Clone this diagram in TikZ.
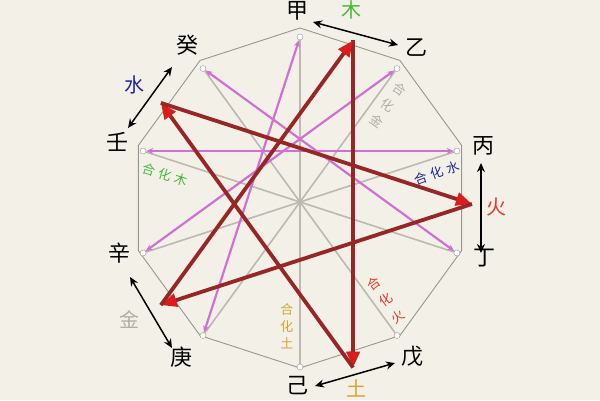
\documentclass[tikz,border=0pt]{standalone}
\usepackage{fontspec}
\newfontfamily\cjk{Noto Sans CJK SC}
\usetikzlibrary{arrows.meta}

% Farben
\definecolor{papier}{RGB}{243,241,231}
\definecolor{randgrau}{RGB}{150,150,145}
\definecolor{liniengrau}{RGB}{188,186,176}
\definecolor{rosa}{RGB}{208,112,208}
\definecolor{dunkelrot}{RGB}{152,38,38}
\definecolor{spitzenrot}{RGB}{218,28,28}
\definecolor{holzgruen}{RGB}{70,185,60}
\definecolor{wasserblau}{RGB}{35,35,160}
\definecolor{feuerrot}{RGB}{225,60,45}
\definecolor{metallgrau}{RGB}{178,174,162}
\definecolor{erdgelb}{RGB}{210,165,50}

\begin{document}
\begin{tikzpicture}[x=1pt, y=1pt,
  stamm/.style={font=\cjk\fontsize{22}{22}\selectfont, inner sep=0pt},
  element/.style={font=\cjk\fontsize{20}{20}\selectfont, inner sep=0pt},
  hehua/.style={font=\cjk\fontsize{13}{20}\selectfont, inner sep=0pt, align=center},
  rand/.style={draw=randgrau, line width=0.9pt},
  heline/.style={draw=liniengrau, line width=1.6pt},
  chong/.style={draw=rosa, line width=2.2pt, {Stealth[length=7pt,width=6pt]}-{Stealth[length=7pt,width=6pt]}},
  ke/.style={draw=dunkelrot, line width=3.8pt, -{Triangle[length=16pt,width=13pt,color=spitzenrot]}},
  wechsel/.style={line width=1.5pt, {Stealth[length=9pt,width=8pt]}-{Stealth[length=9pt,width=8pt]}},
  punkt/.style={circle, draw=randgrau, fill=white, inner sep=0pt, minimum size=6pt}]

  \fill[papier] (-300,-202) rectangle (300,198);
  \useasboundingbox (-300,-202) rectangle (300,198);

  % Zehneck
  \coordinate (jia) at (90:170);
  \coordinate (yi) at (54:170);
  \coordinate (bing) at (18:170);
  \coordinate (ding) at (-18:170);
  \coordinate (wu) at (-54:170);
  \coordinate (ji) at (-90:170);
  \coordinate (geng) at (-126:170);
  \coordinate (xin) at (-162:170);
  \coordinate (ren) at (162:170);
  \coordinate (gui) at (126:170);
  \draw[rand] (jia) -- (yi) -- (bing) -- (ding) -- (wu) -- (ji) -- (geng) -- (xin) -- (ren) -- (gui) -- cycle;

  % Himmelsstaemme
  \node[stamm] (ljia) at (-2,187) {甲};
  \node[stamm] (lyi) at (116,150) {乙};
  \node[stamm] (lbing) at (183,52) {丙};
  \node[stamm] (lding) at (184,-60) {丁};
  \node[stamm] (lwu) at (112,-158) {戊};
  \node[stamm] (lji) at (-2,-188) {己};
  \node[stamm] (lgeng) at (-118,-159) {庚};
  \node[stamm] (lxin) at (-180,-55) {辛};
  \node[stamm] (lren) at (-182,56) {壬};
  \node[stamm] (lgui) at (-112,153) {癸};

  % Punkte an den Ecken
  \begin{scope}[shift={(0,-4)}]
    \node[punkt] (mjia) at (90:165) {};
    \node[punkt] (myi) at (54:165) {};
    \node[punkt] (mbing) at (18:165) {};
    \node[punkt] (mding) at (-18:165) {};
    \node[punkt] (mwu) at (-54:165) {};
    \node[punkt] (mji) at (-90:165) {};
    \node[punkt] (mgeng) at (-126:165) {};
    \node[punkt] (mxin) at (-162:165) {};
    \node[punkt] (mren) at (162:165) {};
    \node[punkt] (mgui) at (126:165) {};
  \end{scope}

  % Fuenf Hehua-Linien
  \draw[heline] (mjia) -- (mji);
  \draw[heline] (myi) -- (mgeng);
  \draw[heline] (mbing) -- (mxin);
  \draw[heline] (mding) -- (mren);
  \draw[heline] (mwu) -- (mgui);

  \node[hehua, text=metallgrau, rotate=-35] (hjin) at (88,93) {合\\化\\金};
  \node[hehua, text=wasserblau, rotate=20] (hshui) at (137,25) {合\hspace{4pt}化\hspace{4pt}水};
  \node[hehua, text=holzgruen, rotate=-17] (hmu) at (-135,23) {合\hspace{4pt}化\hspace{4pt}木};
  \node[hehua, text=feuerrot, rotate=36] (hhuo) at (86,-102) {合\\化\\火};
  \node[hehua, text=erdgelb, font=\cjk\fontsize{13}{17}\selectfont] (htu) at (-13,-128) {合\\化\\土};

  % Chong (rosa)
  \draw[chong] (mjia) -- (mgeng);
  \draw[chong] (myi) -- (mxin);
  \draw[chong] (mbing) -- (mren);
  \draw[chong] (mding) -- (mgui);

  % Fuenf Elemente
  \begin{scope}[shift={(0,-6)}]
    \coordinate (mu) at (72:172);
    \coordinate (huo) at (0:172);
    \coordinate (tu) at (-72:172);
    \coordinate (jin) at (-144:172);
    \coordinate (shui) at (144:172);
  \end{scope}
  \draw[ke] (mu) -- (tu);
  \draw[ke] (tu) -- (shui);
  \draw[ke] (shui) -- (huo);
  \draw[ke] (huo) -- (jin);
  \draw[ke] (jin) -- (mu);

  \node[element, text=holzgruen] (emu) at (52,188) {木};
  \node[element, text=wasserblau] (eshui) at (-165,113) {水};
  \node[element, text=feuerrot] (ehuo) at (196,-9) {火};
  \node[element, text=metallgrau] (ejin) at (-170,-122) {金};
  \node[element, text=erdgelb] (etu) at (57,-190) {土};

  % Pfeile
  \coordinate (mua) at (13,176);
  \coordinate (mub) at (98,153);
  \coordinate (shuia) at (-128,131);
  \coordinate (shuib) at (-172,70);
  \coordinate (huoa) at (181,35);
  \coordinate (huob) at (181,-55);
  \coordinate (jina) at (-170,-79);
  \coordinate (jinb) at (-128,-150);
  \coordinate (tua) at (15,-188);
  \coordinate (tub) at (95,-165);
  \draw[wechsel] (mua) -- (mub);
  \draw[wechsel] (shuia) -- (shuib);
  \draw[wechsel] (huoa) -- (huob);
  \draw[wechsel] (jina) -- (jinb);
  \draw[wechsel] (tua) -- (tub);
\end{tikzpicture}
\end{document}
